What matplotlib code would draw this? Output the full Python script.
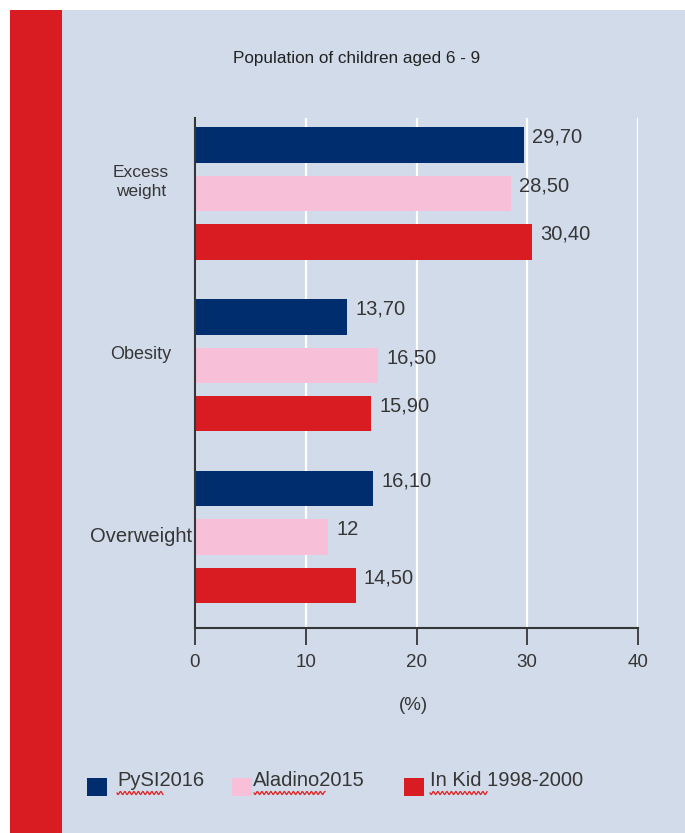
import numpy as np
import matplotlib
matplotlib.use("Agg")
import matplotlib.pyplot as plt
from matplotlib.lines import Line2D
from matplotlib.patches import Rectangle

plt.rcParams['font.family'] = ['Liberation Sans', 'DejaVu Sans']

# data
categories = ["Excess\nweight", "Obesity", "Overweight"]
series = ["PySI2016", "Aladino2015", "In Kid 1998-2000"]
pysi = [29.70, 13.70, 16.10]
aladino = [28.50, 16.50, 12.0]
inkid = [30.40, 15.90, 14.50]
value_labels = [["29,70", "13,70", "16,10"],
                ["28,50", "16,50", "12"],
                ["30,40", "15,90", "14,50"]]
xticks = [0, 10, 20, 30, 40]

NAVY = "#002D6E"
PINK = "#F8BFD9"
RED = "#D91C22"
BG = "#D1DBE9"
TXT = "#363636"

W, H = 685, 833
fig = plt.figure(figsize=(W / 100, H / 100), dpi=100)
fig.patch.set_facecolor("white")

# background panels
fig.patches.append(Rectangle((62 / W, 0), 1 - 62 / W, 1 - 10 / H, transform=fig.transFigure,
                             facecolor=BG, edgecolor="none", zorder=-2))
fig.patches.append(Rectangle((10 / W, 0), 52 / W, 1 - 10 / H, transform=fig.transFigure,
                             facecolor=RED, edgecolor="none", zorder=-2))

ax = fig.add_axes([195 / W, 1 - 628 / H, 443 / W, 510 / H])
ax.set_facecolor(BG)

groups = np.arange(len(categories))
off = 0.282
bh = 0.207
cols = [NAVY, PINK, RED]
for j, vals in enumerate([pysi, aladino, inkid]):
    ypos = groups + (j - 1) * off
    ax.barh(ypos, vals, height=bh, color=cols[j], zorder=3)
    for k, v in enumerate(vals):
        ax.text(v + 0.75, ypos[k] - 0.045, value_labels[j][k], va="center", ha="left",
                fontsize=14.5, color=TXT, zorder=4)

ax.set_xlim(0, 40)
ax.set_ylim(2.53, -0.44)
ax.set_xticks(xticks)
ax.set_xticklabels([str(t) for t in xticks], fontsize=13.5, color=TXT)
ax.set_yticks([])
ax.tick_params(axis="x", direction="out", length=12.5, width=1.3, color=TXT, pad=6)
ax.grid(axis="x", color="white", linewidth=1.6, zorder=0)
for s in ["top", "right"]:
    ax.spines[s].set_visible(False)
for s in ["left", "bottom"]:
    ax.spines[s].set_color(TXT)
    ax.spines[s].set_linewidth(1.5)
    ax.spines[s].set_zorder(5)

# category labels
tr = ax.get_yaxis_transform()
cat_sizes = [12.5, 13, 14.5]
cat_dy = [-0.067, -0.065, 0.0]
for i, c in enumerate(categories):
    ax.text(-0.122, groups[i] + cat_dy[i], c, transform=tr,
            ha="center", va="center", fontsize=cat_sizes[i], color=TXT, linespacing=1.4)

fig.text(357 / W, 1 - 58 / H, "Population of children aged 6 - 9", ha="center", va="center",
         fontsize=12.3, color="#222222")
fig.text(413 / W, 1 - 705 / H, "(%)", ha="center", va="center", fontsize=13.5, color=TXT)

# legend
leg_sq = [87, 232, 404]
leg_tx = [117, 253, 430]
squig = [(117, 163), (254, 325), (430, 487)]
for j in range(3):
    fig.patches.append(Rectangle((leg_sq[j] / W, 1 - 796 / H), 20 / W, 18 / H,
                                 transform=fig.transFigure, facecolor=cols[j],
                                 edgecolor="none"))
    fig.text(leg_tx[j] / W, 1 - 781 / H, series[j], ha="left", va="center",
             fontsize=14.5, color=TXT)
    xs = np.linspace(squig[j][0], squig[j][1], 120)
    ys = 793 + 1.5 * np.sin((xs - xs[0]) / 4.5 * 2 * np.pi)
    fig.lines.append(Line2D(xs / W, 1 - ys / H, transform=fig.transFigure,
                            color="#E02020", linewidth=0.9))

fig.savefig("out.png", dpi=100)
